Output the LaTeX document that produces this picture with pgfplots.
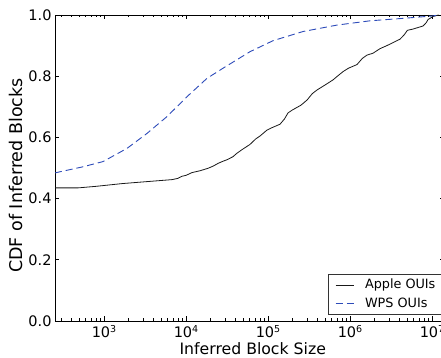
\documentclass[border=0pt]{standalone}
\usepackage{fontspec}
\setmainfont{DejaVu Sans}
\usepackage{pgfplots}
\pgfplotsset{compat=1.18}

\definecolor{wpsblue}{RGB}{45,75,185}
\definecolor{appleblack}{RGB}{25,25,25}
\newcommand\tenpow[1]{10\raisebox{5.3pt}{\fontsize{9.5}{9.5}\selectfont #1}}

\begin{document}
\begin{tikzpicture}
\begin{axis}[
  scale only axis,
  width=389.3pt, height=306pt,
  xmode=log,
  xmin=252.5, xmax=1.4125e7,
  ymin=0, ymax=1,
  axis line style={black, line width=0.9pt},
  tick align=inside,
  tick pos=both,
  major tick length=4.5pt,
  minor tick length=2.5pt,
  tick style={black, line width=0.8pt},
  xtick={1e3,1e4,1e5,1e6,1e7},
  xticklabels={\tenpow{3},\tenpow{4},\tenpow{5},\tenpow{6},\tenpow{7}},
  minor xtick={300,400,500,600,700,800,900,
               2000,3000,4000,5000,6000,7000,8000,9000,
               20000,30000,40000,50000,60000,70000,80000,90000,
               200000,300000,400000,500000,600000,700000,800000,900000,
               2000000,3000000,4000000,5000000,6000000,7000000,8000000,9000000},
  ytick={0,0.2,0.4,0.6,0.8,1.0},
  yticklabels={0.0,0.2,0.4,0.6,0.8,1.0},
  ticklabel style={font=\fontsize{14.5}{14.5}\selectfont},
  yticklabel style={inner sep=0pt, xshift=-3.3pt},
  xticklabel style={inner sep=0pt, yshift=-4pt},
  xlabel={Inferred Block Size},
  ylabel={CDF of Inferred Blocks},
  xlabel style={font=\fontsize{15.7}{15.7}\selectfont,
                at={(axis description cs:0.508,-0.111)}, anchor=base},
  ylabel style={font=\fontsize{17.5}{17.5}\selectfont,
                at={(axis description cs:-0.083,0.4755)}, anchor=base},
  legend style={at={(axis description cs:0.7005,0.0196)}, anchor=south west,
                draw=black!80, line width=0.8pt, fill=white,
                inner xsep=7pt, inner ysep=2.4pt,
                column sep=9pt, row sep=1.6pt,
                nodes={inner sep=2pt, text height=9.8pt, text depth=3pt},
                font=\fontsize{12.8}{12.8}\selectfont},
  legend cell align=left,
  legend image code/.code={\draw[#1] (0pt,0pt) -- (18pt,0pt);},
]
\coordinate (o) at (rel axis cs:0,0);

% Apple OUIs
\addplot[appleblack, line width=0.8pt] coordinates {
  (252,0.435) (482,0.435) (794,0.440) (1660,0.449) (3162,0.455)
  (6745,0.462) (7943,0.466) (8933,0.473) (10000,0.476) (11830,0.485)
  (14825,0.491) (18535,0.499) (21380,0.506) (24547,0.515) (28184,0.522)
  (31623,0.527) (37411,0.537) (41687,0.548) (48195,0.560) (60256,0.577)
  (70795,0.595) (79433,0.604) (97275,0.624) (112202,0.632) (139960,0.643)
  (158489,0.660) (175388,0.680) (199526,0.690) (251189,0.705) (299230,0.722)
  (346737,0.743) (396278,0.755) (501187,0.772) (620869,0.788) (724436,0.803)
  (822243,0.815) (954993,0.826) (1216186,0.838) (1412538,0.858) (1610646,0.869)
  (1905461,0.875) (2322736,0.890) (2818383,0.900) (3250873,0.908) (4073803,0.921)
  (4570882,0.935) (5011872,0.950) (5861382,0.954) (7762471,0.964) (8511380,0.975)
  (8933055,0.985) (10280163,0.995) (12022644,1.000)
};
\addlegendentry{Apple OUIs}

% WPS OUIs
\addplot[wpsblue, line width=0.9pt, dash pattern=on 7pt off 4pt] coordinates {
  (252,0.484) (555,0.504) (973,0.521) (1905,0.564) (3342,0.613)
  (5861,0.668) (10280,0.733) (18030,0.793) (28249,0.826) (60256,0.880)
  (115080,0.916) (267300,0.946) (693400,0.967) (1753880,0.981) (4425900,0.989)
  (10280163,0.997) (12022644,1.000)
};
\addlegendentry{WPS OUIs}
\end{axis}
\pgfresetboundingbox
\path[use as bounding box] ([shift={(-55pt,-37pt)}]o) rectangle ([shift={(386pt,321pt)}]o);
\end{tikzpicture}
\end{document}
